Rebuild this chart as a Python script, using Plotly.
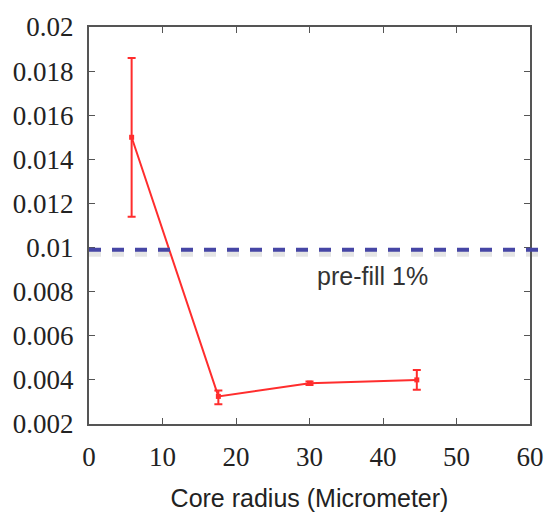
import plotly.graph_objects as go

# Data
core_radius = [5.8, 17.6, 30.0, 44.6]
value = [0.0150, 0.00325, 0.00385, 0.0040]
err_plus = [0.0036, 0.00027, 0.00008, 0.00045]
err_minus = [0.0036, 0.00035, 0.00008, 0.00045]
prefill_level = 0.0099
prefill_label = "pre-fill 1%"

x_ticks = [0, 10, 20, 30, 40, 50, 60]
y_ticks = [0.002, 0.004, 0.006, 0.008, 0.01, 0.012, 0.014, 0.016, 0.018, 0.02]
y_tick_text = ["0.002", "0.004", "0.006", "0.008", "0.01", "0.012", "0.014", "0.016", "0.018", "0.02"]

red = "rgb(255,45,45)"
blue = "rgb(70,70,165)"
axis_col = "#555555"

fig = go.Figure()

# soft shadow of the dashed reference line
fig.add_shape(type="line", xref="paper", yref="y", x0=0, x1=1.027,
              y0=prefill_level - 0.00014, y1=prefill_level - 0.00014,
              line=dict(color="rgba(0,0,0,0.10)", width=8, dash="12px,11px"), layer="below")
fig.add_shape(type="line", xref="paper", yref="y", x0=0, x1=1.027,
              y0=prefill_level, y1=prefill_level,
              line=dict(color=blue, width=4, dash="12px,11px"))

fig.add_trace(go.Scatter(
    x=core_radius, y=value, mode="lines+markers",
    line=dict(color=red, width=2),
    marker=dict(color=red, size=5, symbol="square"),
    error_y=dict(type="data", symmetric=False, array=err_plus, arrayminus=err_minus,
                 color=red, thickness=2, width=4),
    showlegend=False,
))

fig.add_annotation(x=38.6, y=0.0087, xref="x", yref="y", text=prefill_label,
                   showarrow=False, font=dict(family="Liberation Sans", size=25, color="#333333"))

fig.update_xaxes(
    range=[0, 60], tickvals=x_ticks, ticks="inside", ticklen=6, tickcolor=axis_col,
    showline=True, linecolor=axis_col, linewidth=2, mirror="ticks", showgrid=False, zeroline=False,
    tickfont=dict(family="Liberation Serif", size=27, color="#222222"), ticklabelstandoff=8,
    title=dict(text="Core radius (Micrometer)", font=dict(family="Liberation Sans", size=25, color="#222222"), standoff=18),
)
fig.update_yaxes(
    range=[0.002, 0.02], tickvals=y_ticks, ticktext=y_tick_text, ticks="inside", ticklen=6, tickcolor=axis_col,
    showline=True, linecolor=axis_col, linewidth=2, mirror="ticks", showgrid=False, zeroline=False,
    tickfont=dict(family="Liberation Serif", size=27, color="#222222"), ticklabelstandoff=8,
)

fig.update_layout(
    width=558, height=520,
    margin=dict(l=89, r=28, t=26, b=95),
    plot_bgcolor="white", paper_bgcolor="white",
)

fig.write_html("out.html")
